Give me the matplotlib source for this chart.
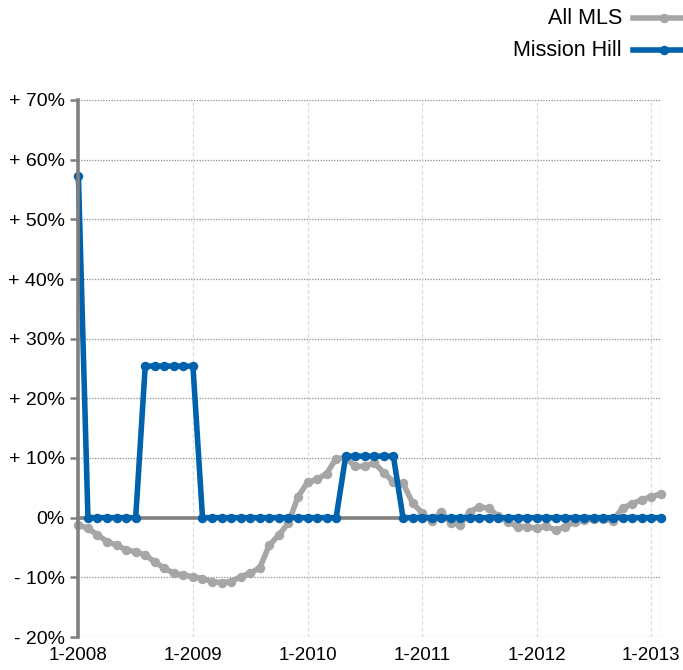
import matplotlib
matplotlib.use("Agg")
import matplotlib.pyplot as plt
from matplotlib.lines import Line2D

plt.rcParams['font.family'] = ['Liberation Sans', 'DejaVu Sans']

# Monthly data, Jan 2008 .. Feb 2013 (percent change)
all_mls = [-1.2, -1.8, -2.9, -4.0, -4.6, -5.4, -5.7, -6.3, -7.4, -8.5,
           -9.3, -9.6, -9.9, -10.2, -10.7, -10.9, -10.7, -9.9, -9.3, -8.4,
           -4.6, -2.9, -0.9, 3.5, 5.9, 6.4, 7.4, 9.9, 10.0, 8.6,
           8.6, 9.2, 7.5, 6.0, 5.8, 2.5, 0.8, -0.6, 1.0, -0.9,
           -1.2, 1.0, 1.8, 1.6, 0.2, -0.7, -1.5, -1.5, -1.8, -1.4,
           -2.1, -1.5, -0.7, -0.4, -0.3, -0.3, -0.5, 1.6, 2.3, 3.0,
           3.5, 4.0]
mission_hill = [57.3, 0, 0, 0, 0, 0, 0, 25.4, 25.4, 25.4,
                25.4, 25.4, 25.4, 0, 0, 0, 0, 0, 0, 0,
                0, 0, 0, 0, 0, 0, 0, 0, 10.3, 10.3,
                10.3, 10.3, 10.3, 10.3, 0, 0, 0, 0, 0, 0,
                0, 0, 0, 0, 0, 0, 0, 0, 0, 0,
                0, 0, 0, 0, 0, 0, 0, 0, 0, 0,
                0, 0]
months = list(range(len(all_mls)))
x_tick_pos = [0, 12, 24, 36, 48, 60]
x_tick_labels = ['1-2008', '1-2009', '1-2010', '1-2011', '1-2012', '1-2013']
y_ticks = [70, 60, 50, 40, 30, 20, 10, 0, -10, -20]
y_tick_labels = ['+ 70%', '+ 60%', '+ 50%', '+ 40%', '+ 30%', '+ 20%',
                 '+ 10%', '0%', '- 10%', '- 20%']

W, H = 683, 670
fig = plt.figure(figsize=(W / 100, H / 100), dpi=100)
ax = fig.add_axes([78.4 / W, 1 - 637 / H, (660.7 - 78.4) / W, (637 - 100) / H])

GREY = '#a6a6a6'
BLUE = '#0061ac'
AX = '#808080'

ax.set_xlim(0, 61)
ax.set_ylim(-20, 70)

# horizontal dotted grid
for v in y_ticks:
    if v != 0:
        ax.axhline(v, color='#8c8c8c', lw=0.9, ls=(0, (1, 1.2)), zorder=1)
# vertical light grid
for p in x_tick_pos[1:]:
    ax.axvline(p, color='#dadada', lw=0.9, ls=(0, (3, 2)), zorder=1)
# right border
ax.axvline(61, color='#a0a0a0', lw=0.9, ls=(0, (1, 1.2)), zorder=1)
# zero line
ax.axhline(0, color=AX, lw=2.6, zorder=2)

ax.plot(months, all_mls, color=GREY, lw=4.0, marker='o', ms=6.8,
        markeredgewidth=0, zorder=3, clip_on=False, solid_joinstyle='round')
ax.plot(months, mission_hill, color=BLUE, lw=4.0, marker='o', ms=6.8,
        markeredgewidth=0, zorder=4, clip_on=False, solid_joinstyle='round')

for s in ['top', 'right', 'bottom']:
    ax.spines[s].set_visible(False)
ax.spines['left'].set_color(AX)
ax.spines['left'].set_linewidth(2.6)
ax.spines['left'].set_zorder(5)

ax.set_yticks(y_ticks)
ax.set_yticklabels(y_tick_labels, fontsize=14)
ax.tick_params(axis='y', length=6, width=1.8, color=AX, pad=4)
ax.set_xticks(x_tick_pos)
ax.set_xticklabels(x_tick_labels, fontsize=13.5)
ax.tick_params(axis='x', length=0, pad=7)

# legend (manual, top right)
for ytxt, label, col in [(18, 'All MLS', GREY), (50, 'Mission Hill', BLUE)]:
    yf = 1 - ytxt / H
    fig.text(622 / W, yf, label, ha='right', va='center', fontsize=15.5)
    fig.add_artist(Line2D([633 / W, 1.0], [yf, yf], color=col, lw=4.0,
                          transform=fig.transFigure))
    fig.add_artist(Line2D([664 / W], [yf], color=col, marker='o', ms=6.8,
                          markeredgewidth=0, transform=fig.transFigure))

fig.savefig('out.png', dpi=100)
